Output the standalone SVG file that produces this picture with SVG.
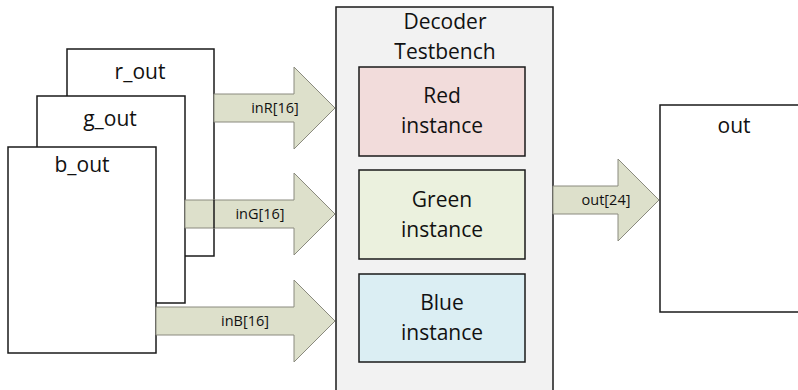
<svg xmlns="http://www.w3.org/2000/svg" xmlns:xlink="http://www.w3.org/1999/xlink" width="798" height="390" viewBox="0 0 798 390">
  <style>
    .box { fill: #ffffff; stroke: #1a1a1a; stroke-width: 1.5; }
    .bench { fill: #f2f2f2; stroke: #1a1a1a; stroke-width: 1.5; }
    .inst { stroke: #1a1a1a; stroke-width: 1.5; }
    .red { fill: #f2dcdb; }
    .green { fill: #ebf1de; }
    .blue { fill: #dbeef3; }
    .bus { fill: #dde0cb; stroke: #8a8a7e; stroke-width: 1; }
    .big { font-family: "Open Sans", "Noto Sans", "Liberation Sans", sans-serif; font-size: 21px; fill: #111; text-anchor: middle; }
    .small { font-family: "Open Sans", "Noto Sans", "Liberation Sans", sans-serif; font-size: 14.5px; fill: #111; text-anchor: middle; }
  </style>
  <defs>
    <rect id="rOutFrame" x="67" y="49" width="147" height="207"/>
  </defs>

  <rect x="0" y="0" width="798" height="390" fill="#ffffff"/>

  <!-- testbench container with the three decoder instances -->
  <g id="testbench">
    <rect class="bench" x="336" y="7" width="217" height="400"/>
    <text class="big" x="445" y="29">Decoder</text>
    <text class="big" x="445" y="59">Testbench</text>
  </g>
  <g id="red-instance">
    <rect class="inst red" x="359" y="67" width="166" height="89"/>
    <text class="big" x="442" y="103">Red</text>
    <text class="big" x="442" y="133">instance</text>
  </g>
  <g id="green-instance">
    <rect class="inst green" x="359" y="170" width="166" height="89"/>
    <text class="big" x="442" y="207">Green</text>
    <text class="big" x="442" y="237">instance</text>
  </g>
  <g id="blue-instance">
    <rect class="inst blue" x="359" y="274" width="166" height="88"/>
    <text class="big" x="442" y="310">Blue</text>
    <text class="big" x="442" y="340">instance</text>
  </g>

  <!-- stacked source buffers -->
  <g id="r_out">
    <use xlink:href="#rOutFrame" class="box"/>
    <text class="big" x="140" y="79">r_out</text>
  </g>
  <g id="g_out">
    <rect class="box" x="37" y="96" width="148" height="207"/>
    <text class="big" x="110" y="126">g_out</text>
  </g>
  <g id="b_out">
    <rect class="box" x="8" y="147" width="148" height="206"/>
    <text class="big" x="82" y="172">b_out</text>
  </g>

  <!-- output buffer -->
  <g id="out">
    <rect class="box" x="660" y="105" width="200" height="207"/>
    <text class="big" x="734" y="133">out</text>
  </g>

  <!-- bus connectors -->
  <g id="connectors">
    <polygon class="bus" points="214,94 294,94 294,67 335,108 294,149 294,122 214,122"/>
    <text class="small" x="275" y="113">inR[16]</text>
    <polygon class="bus" points="185,200 294,200 294,173 335,214 294,255 294,228 185,228"/>
    <text class="small" x="260" y="219">inG[16]</text>
    <polygon class="bus" points="156,307 294,307 294,280 335,321 294,362 294,335 156,335"/>
    <text class="small" x="245" y="326">inB[16]</text>
    <polygon class="bus" points="553,186 618,186 618,159 659,200 618,241 618,214 553,214"/>
    <text class="small" x="606" y="205">out[24]</text>
    <!-- r_out right edge stays visible across the inG bus -->
    <line x1="214" y1="200" x2="214" y2="228" stroke="#1a1a1a" stroke-width="1.5"/>
  </g>
</svg>
